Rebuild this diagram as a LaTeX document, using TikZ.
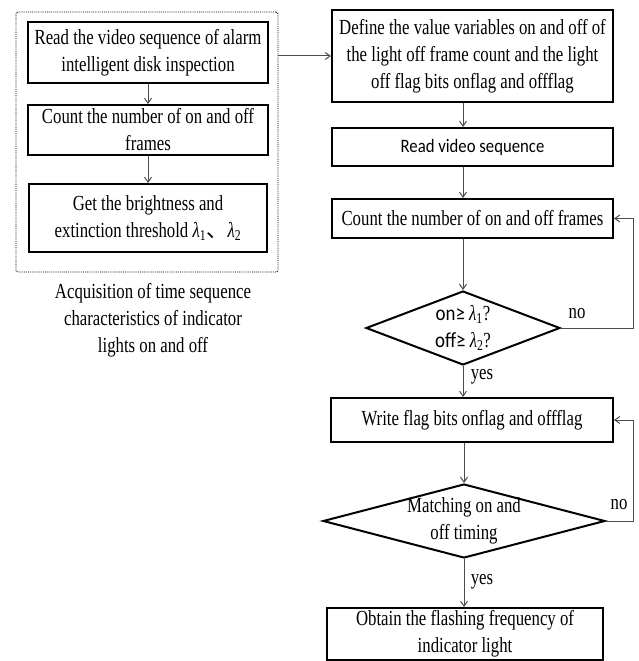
\documentclass[tikz,border=0pt]{standalone}
\usepackage{fontspec}
\setmainfont{Liberation Serif}[FakeStretch=0.78]
\newfontfamily\calfont{Carlito}[FakeStretch=0.88]
\newfontfamily\cjk{Noto Sans CJK SC}
\usetikzlibrary{arrows.meta,positioning,shapes.geometric,calc}
\newcommand{\lam}[1]{\textit{λ}\textsubscript{#1}}

\begin{document}
\begin{tikzpicture}[x=1pt, y=-1pt,
    every node/.style={font=\fontsize{21.5}{27}\selectfont},
    proc/.style={draw, line width=2pt, inner sep=0pt, align=center},
    dec/.style={draw, diamond, line width=2pt, inner sep=0pt},
    arr/.style={draw=black!70, line width=1pt, -{Straight Barb[length=5pt,width=7pt]}},
    lbl/.style={inner sep=0pt, align=center}]
  \useasboundingbox (0,0) rectangle (638,661);

  % left part
  \node[draw, densely dotted, line width=0.9pt, rounded corners=2pt, inner sep=0pt,
        minimum width=262, minimum height=260] (grp) at (147,142) {};
  \node[proc, minimum width=240, minimum height=61] (a1) at (148,52.5)
    {Read the video sequence of alarm\\intelligent disk inspection};
  \node[proc, minimum width=240, minimum height=50] (a2) at (148,130)
    {Count the number of on and off\\frames};
  \node[proc, minimum width=238, minimum height=68] (a3) at (148,218)
    {Get the brightness and\\extinction threshold \lam{1}{\cjk 、}\lam{2}};
  \node[lbl] (cap) at (153,320)
    {Acquisition of time sequence\\characteristics of indicator\\lights on and off};

  % right part
  \node[proc, minimum width=281, minimum height=92] (b1) at (472.5,56)
    {Define the value variables on and off of\\the light off frame count and the light\\off flag bits onflag and offflag};
  \node[proc, minimum width=281, minimum height=38, font=\calfont\fontsize{19}{24}\selectfont] (b2) at (472.5,147)
    {Read video sequence};
  \node[proc, minimum width=281, minimum height=39] (b3) at (472.5,218.5)
    {Count the number of on and off frames};
  \node[dec, minimum width=194, minimum height=74,
        label={[lbl]center:{\calfont on≥} \lam{1}?\\{\calfont off≥} \lam{2}?}] (d1) at (463,328) {};
  \node[proc, minimum width=282, minimum height=44] (b4) at (472,420)
    {Write flag bits onflag and offflag};
  \node[dec, minimum width=282, minimum height=74,
        label={[lbl]center:Matching on and\\off timing}] (d2) at (464,521) {};
  \node[proc, minimum width=276, minimum height=52] (b5) at (465,634)
    {Obtain the flashing frequency of\\indicator light};

  \node[lbl] (no1) at (577,314) {no};
  \node[lbl] (no2) at (619,505) {no};
  \node[lbl] (yes1) at (482,377) {yes};
  \node[lbl] (yes2) at (482,582) {yes};

  % connectors
  \draw[arr] (a1) -- (a2);
  \draw[arr] (a2) -- (a3);
  \draw[arr] (grp.east |- b1.west) -- (b1.west);
  \draw[arr] (b1.south -| d1.north) -- (b2.north -| d1.north);
  \draw[arr] (b2.south -| d1.north) -- (b3.north -| d1.north);
  \draw[arr] (b3.south -| d1.north) -- (d1.north);
  \draw[arr] (d1.south) -- (b4.north -| d1.south);
  \draw[arr] (b4.south -| d2.north) -- (d2.north);
  \draw[arr] (d2.south) -- (b5.north -| d2.south);
  \draw[arr] (d1.east) -- ++(72,0) |- (b3.east);
  \draw[arr] (d2.east) -- ++(27,0) |- (b4.east);
\end{tikzpicture}
\end{document}
